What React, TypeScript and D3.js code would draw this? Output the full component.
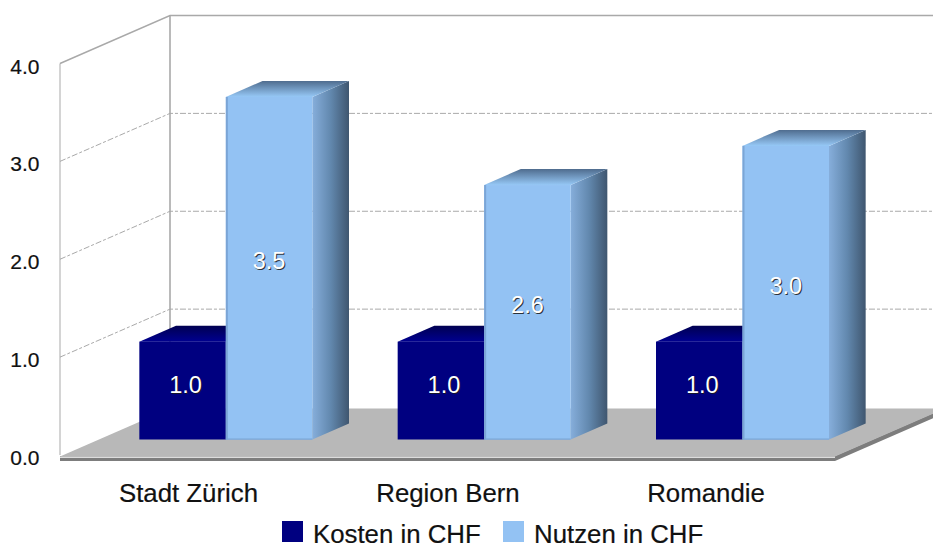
import React from "react";
import * as d3 from "d3";

const categories = ["Stadt Zürich", "Region Bern", "Romandie"];
const kosten = [1.0, 1.0, 1.0];
const nutzen = [3.5, 2.6, 3.0];
const yTicks = [0, 1, 2, 3, 4];
const legendItems = ["Kosten in CHF", "Nutzen in CHF"];

const W = 933, H = 545;
const DX = 110, DY = -48;
const FONT = "'Liberation Sans', Arial, sans-serif";

const y = d3.scaleLinear().domain([0, 4]).range([455, 63.5]);
const x = d3.scaleBand<string>().domain(categories).range([60, 835]);
const inner = d3.scaleBand<string>().domain(["k", "n"]).range([0, 173]);

const P = 1 / 3; // depth of bar front plane
const BD = 1 / 3; // depth of a bar
const line = d3.line();
const catNudge = [-0.7, 0.5, 0.2];

function Bar3D({ x0, w, v, front, side, top, edge }: any) {
  const ox = DX * P, oy = DY * P;
  const bx = DX * BD, by = DY * BD;
  const l = x0 + ox;
  const r = l + w;
  const b = y(0) + oy + 0.5;
  const t = y(v) + oy + 0.5;
  return (
    <g>
      <path d={line([[r, b], [r + bx, b + by], [r + bx, t + by], [r, t]])! + "Z"} fill={side} />
      <path d={line([[l, t], [l + bx, t + by], [r + bx, t + by], [r, t]])! + "Z"} fill={top} />
      <rect x={l} y={t} width={w} height={b - t} fill={front} />
      {edge && <rect x={l} y={t} width={2} height={b - t} fill={edge} />}
      {edge && <rect x={l} y={b - 1} width={w} height={1.2} fill={edge} />}
    </g>
  );
}

function Label({ cx, cy, text }: any) {
  return (
    <g fontFamily={FONT} fontSize={23.5} textAnchor="middle">
      <text x={cx + 1} y={cy + 9} fill="#1a1a1a" opacity={0.85}>{text}</text>
      <text x={cx} y={cy + 8} fill="#fff">{text}</text>
    </g>
  );
}

export default function App() {
  const grid = "#a9a9a9";
  const farEnd = 945;
  const inkProps = { stroke: "#111", strokeWidth: 0.2, fill: "#111" };
  return (
    <svg width={W} height={H} viewBox={`0 0 ${W} ${H}`} style={{ position: "absolute", left: 0, top: 0, background: "#fff" }}>
      <defs>
        <linearGradient id="sideN" x1="0" x2="1" y1="0" y2="0">
          <stop offset="0" stopColor="#86aedb" />
          <stop offset="0.5" stopColor="#6288ae" />
          <stop offset="1" stopColor="#3f566f" />
        </linearGradient>
        <linearGradient id="topN" x1="0" x2="0" y1="1" y2="0">
          <stop offset="0" stopColor="#96c8f6" />
          <stop offset="1" stopColor="#4f6c8e" />
        </linearGradient>
        <linearGradient id="topK" x1="0" x2="0" y1="1" y2="0">
          <stop offset="0" stopColor="#000090" />
          <stop offset="1" stopColor="#000050" />
        </linearGradient>
      </defs>

      {/* walls */}
      <path d={line([[60, y(4)], [60 + DX, y(4) + DY], [W, y(4) + DY]])!} fill="none" stroke={grid} strokeWidth={1.4} />
      <line x1={60} x2={60} y1={y(4)} y2={y(0)} stroke={grid} strokeWidth={1} />
      <line x1={60 + DX} x2={60 + DX} y1={y(4) + DY} y2={y(0) + DY} stroke={grid} strokeWidth={1.6} />
      {yTicks.filter((t) => t > 0 && t < 4).map((t) => (
        <path key={t} d={line([[60, y(t)], [60 + DX, y(t) + DY], [W, y(t) + DY]])!} fill="none" stroke={grid} strokeWidth={1} strokeDasharray="6 2 3 2" />
      ))}

      {/* floor */}
      <path d={line([[60, y(0) + 6], [835, y(0) + 6], [farEnd, y(0) + DY + 6], [farEnd, y(0) + DY + 1], [835, y(0) + 1], [60, y(0) + 1]])! + "Z"} fill="#7d7d7d" />
      <path d={line([[60, y(0) + 1.5], [60 + DX, y(0) + DY + 1.5], [farEnd, y(0) + DY + 1.5], [835, y(0) + 1.5]])! + "Z"} fill="#b8b8b8" />
      <rect x={60} y={y(0) + 1.5} width={775} height={1.5} fill="#dcdcdc" />
      <rect x={60} y={y(0) + 3} width={775} height={3} fill="#7d7d7d" />

      {/* bars */}
      {categories.map((c, i) => {
        const w = inner.bandwidth();
        const x0 = x(c)! + (x.bandwidth() - inner.step() * 2) / 2;
        return (
          <g key={c}>
            <Bar3D x0={x0 + inner("k")!} w={w} v={kosten[i]} front="#000080" side="#000060" top="url(#topK)" />
            <Bar3D x0={x0 + inner("n")!} w={w} v={nutzen[i]} front="#93c2f3" side="url(#sideN)" top="url(#topN)" edge="#7ba5d6" />
          </g>
        );
      })}

      {/* data labels */}
      {categories.map((c, i) => {
        const w = inner.bandwidth();
        const x0 = x(c)! + (x.bandwidth() - inner.step() * 2) / 2 + DX * P;
        const base = y(0) + DY * P;
        return (
          <g key={c}>
            <Label cx={x0 + inner("k")! + w / 2 + 3} cy={(base + y(kosten[i]) + DY * P) / 2 - 5} text={kosten[i].toFixed(1)} />
            <Label cx={x0 + inner("n")! + w / 2} cy={(base + y(nutzen[i]) + DY * P) / 2 - 6.5} text={nutzen[i].toFixed(1)} />
          </g>
        );
      })}

      {/* y tick labels */}
      {yTicks.map((t) => (
        <text key={t} x={39.5} y={y(t) + 10} textAnchor="end" fontFamily={FONT} fontSize={21} {...inkProps}>{t.toFixed(1)}</text>
      ))}

      {/* category labels */}
      {categories.map((c, i) => (
        <text key={c} x={x(c)! + x.bandwidth() / 2 + catNudge[i]} y={502} textAnchor="middle" fontFamily={FONT} fontSize={25.8} {...inkProps}>{c}</text>
      ))}

      {/* legend */}
      <rect x={282} y={521} width={21} height={21} fill="#000080" />
      <text x={313} y={542.5} fontFamily={FONT} fontSize={25.8} {...inkProps}>{legendItems[0]}</text>
      <rect x={503} y={521} width={21} height={21} fill="#93c2f3" />
      <text x={534} y={542.5} fontFamily={FONT} fontSize={25.8} {...inkProps}>{legendItems[1]}</text>
    </svg>
  );
}
